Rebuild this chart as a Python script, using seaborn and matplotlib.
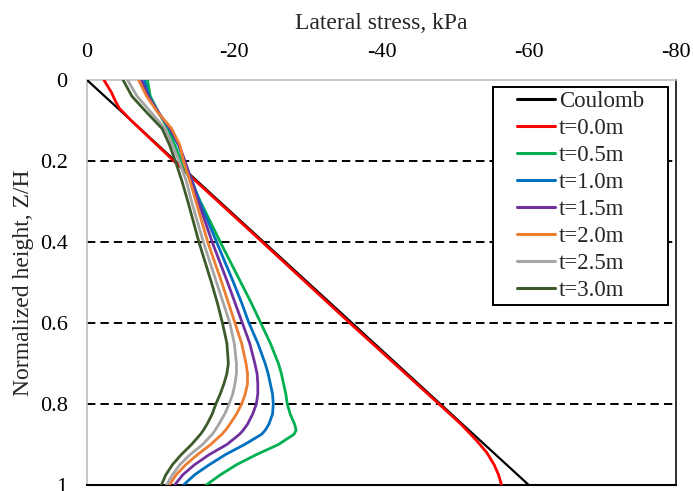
import numpy as np
import pandas as pd
import matplotlib
matplotlib.use("Agg")
import matplotlib.pyplot as plt
from matplotlib.lines import Line2D
from matplotlib.patches import Rectangle
import seaborn as sns

# ---------------- data ----------------
coulomb_z = [0.0, 1.0]
coulomb_s = [0.0, -60.0]

t00_z = [0.0, 0.03, 0.05, 0.07, 0.1, 0.2, 0.4, 0.6, 0.8, 0.85, 0.89, 0.92, 0.95, 0.975, 1.0]
t00_s = [-2.3, -3.3, -3.8, -4.4, -6.0, -11.8, -23.8, -35.7, -47.8, -50.8, -52.9, -54.3, -55.3, -55.9, -56.3]

z_grid = [0.0, 0.04, 0.08, 0.12, 0.16, 0.2, 0.25, 0.3, 0.4, 0.5, 0.55, 0.6, 0.65, 0.7, 0.725, 0.75,
          0.775, 0.8, 0.825, 0.85, 0.865, 0.875, 0.9, 0.925, 0.95, 0.975, 1.0]
t05_s = [-8.2, -8.6, -9.7, -11.0, -11.9, -12.8, -14.1, -15.4, -18.1, -20.9, -22.3, -23.6, -24.9, -26.0,
         -26.4, -26.7, -27.0, -27.2, -27.6, -28.2, -28.4, -28.1, -26.0, -23.0, -20.3, -18.1, -16.2]
t10_s = [-7.8, -8.4, -9.7, -11.2, -12.4, -13.2, -14.3, -15.3, -17.6, -19.9, -21.0, -22.0, -23.2, -24.2,
         -24.6, -24.9, -25.2, -25.3, -25.2, -24.7, -24.2, -23.7, -21.4, -18.8, -16.6, -14.6, -13.1]
t15_s = [-7.4, -8.3, -9.7, -11.3, -12.5, -13.3, -14.2, -15.1, -17.0, -19.1, -20.1, -21.1, -22.1, -22.8,
         -23.1, -23.2, -23.2, -23.0, -22.5, -21.8, -21.2, -20.7, -19.0, -16.6, -14.6, -13.0, -11.9]
t20_s = [-7.0, -8.1, -9.6, -11.5, -12.6, -13.1, -14.0, -14.8, -16.4, -18.3, -19.2, -20.1, -21.0, -21.6,
         -21.8, -21.8, -21.5, -21.0, -20.3, -19.4, -18.8, -18.3, -16.8, -15.0, -13.4, -12.1, -11.2]
t25_s = [-5.5, -6.8, -8.7, -10.6, -11.6, -12.5, -13.5, -14.2, -15.8, -17.6, -18.5, -19.4, -20.0, -20.3,
         -20.3, -20.1, -19.8, -19.3, -18.7, -17.9, -17.4, -17.0, -15.7, -14.0, -12.6, -11.6, -10.8]
t30_s = [-4.9, -6.1, -8.1, -10.2, -11.2, -12.0, -12.9, -13.7, -15.2, -16.9, -17.7, -18.4, -19.0, -19.2,
         -19.0, -18.6, -18.1, -17.5, -17.0, -16.3, -15.8, -15.4, -14.2, -12.8, -11.6, -10.7, -10.1]

series_names = ["Coulomb", "t=0.0m", "t=0.5m", "t=1.0m", "t=1.5m", "t=2.0m", "t=2.5m", "t=3.0m"]
series_colors = ["#000000", "#FF0000", "#00B050", "#0070C0", "#7030A0", "#ED7D31", "#A5A5A5", "#3D5A2A"]

x_ticks = [0, -20, -40, -60, -80]
y_ticks = [0, 0.2, 0.4, 0.6, 0.8, 1.0]
y_tick_labels = ["0", "0.2", "0.4", "0.6", "0.8", "1"]
grid_levels = [0.2, 0.4, 0.6, 0.8]

# ---------------- build table ----------------
frames = [
    pd.DataFrame({"stress": coulomb_s, "z": coulomb_z, "series": "Coulomb"}),
    pd.DataFrame({"stress": t00_s, "z": t00_z, "series": "t=0.0m"}),
]
for name, vals in zip(series_names[2:], [t05_s, t10_s, t15_s, t20_s, t25_s, t30_s]):
    frames.append(pd.DataFrame({"stress": vals, "z": z_grid, "series": name}))
df = pd.concat(frames, ignore_index=True)
palette = dict(zip(series_names, series_colors))

# ---------------- style ----------------
sns.set_style("white")
plt.rcParams["font.family"] = ["Liberation Serif", "DejaVu Serif"]
plt.rcParams["axes.unicode_minus"] = False

fig = plt.figure(figsize=(6.93, 4.91), dpi=100)
ax = fig.add_axes([87 / 693, 1 - 485 / 491, (676 - 87) / 693, (485 - 80) / 491])

sns.lineplot(data=df[df.series == "Coulomb"], x="stress", y="z", color="#000000",
             estimator=None, sort=False, lw=1.6, ax=ax, legend=False, zorder=3)
sns.lineplot(data=df[df.series != "Coulomb"], x="stress", y="z", hue="series",
             hue_order=series_names[1:], palette=palette,
             estimator=None, sort=False, lw=2.0, ax=ax, legend=False, zorder=3)
for ln in ax.get_lines():
    ln.set_solid_joinstyle("round")
    ln.set_solid_capstyle("round")

ax.set_xlim(0, -80)
ax.set_ylim(1, 0)
ax.set_xticks(x_ticks)
ax.set_yticks(y_ticks)
ax.set_yticklabels(y_tick_labels)
ax.xaxis.tick_top()
ax.xaxis.set_label_position("top")
ax.tick_params(axis="both", length=0, labelsize=16, colors="black")
ax.tick_params(axis="x", pad=13)
ax.tick_params(axis="y", pad=14)
ax.set_xlabel("Lateral stress, kPa", fontsize=17, labelpad=10)
ax.set_ylabel("Normalized height, Z/H", fontsize=17, labelpad=4)

for lev in grid_levels:
    ax.axhline(lev, color="black", lw=1.4, ls=(0, (4.3, 2.6)), zorder=1)

ax.spines["top"].set_color("#BFBFBF")
ax.spines["left"].set_color("#BFBFBF")
ax.spines["top"].set_linewidth(1.2)
ax.spines["left"].set_linewidth(1.2)
ax.spines["right"].set_color("#202020")
ax.spines["right"].set_linewidth(1.3)
ax.spines["bottom"].set_color("black")
ax.spines["bottom"].set_linewidth(1.5)

# legend box
x0 = (493 - 87) / 589
x1 = (668 - 87) / 589
y_top = 1 - (87 - 80) / 405
y_bot = 1 - (305 - 80) / 405
ax.add_patch(Rectangle((x0, y_bot), x1 - x0, y_top - y_bot, transform=ax.transAxes,
                       facecolor="white", edgecolor="black", lw=1.4, zorder=4))
handles = [Line2D([], [], color=c, lw=2.2) for c in series_colors]
leg = ax.legend(handles, series_names, loc="center",
                bbox_to_anchor=((x0 + x1) / 2, (y_top + y_bot) / 2),
                bbox_transform=ax.transAxes, frameon=False, fontsize=16.5,
                handlelength=1.65, handletextpad=0.2, labelspacing=0.26, borderpad=0.0)
leg.set_zorder(5)

fig.savefig("out.png", dpi=100)
